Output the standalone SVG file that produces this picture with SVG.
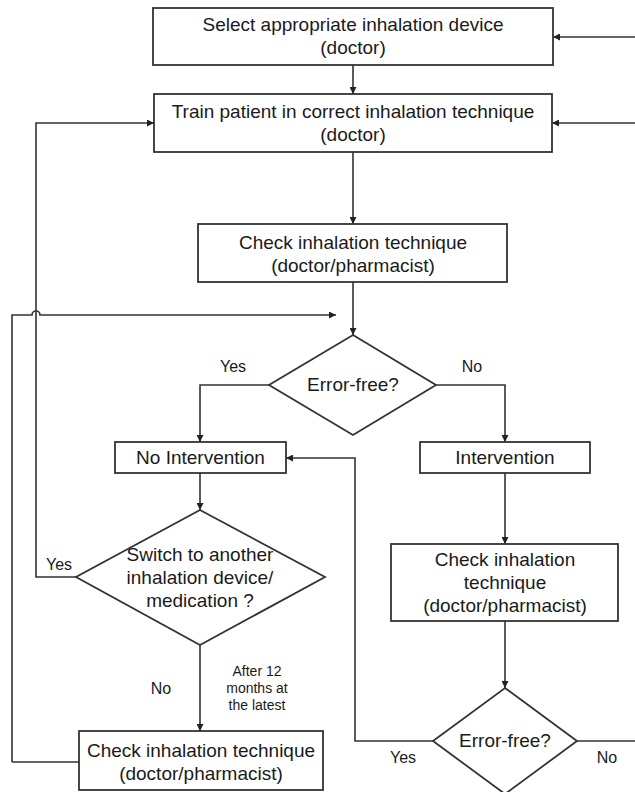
<svg xmlns="http://www.w3.org/2000/svg" width="635" height="792" viewBox="0 0 635 792">
<style>
.box{fill:#fff;stroke:#333;stroke-width:1.8}
.t{font-family:"Liberation Sans",Arial,sans-serif;font-size:19px;fill:#1a1a1a;text-anchor:middle}
.l{font-family:"Liberation Sans",Arial,sans-serif;font-size:16px;fill:#1a1a1a;text-anchor:middle}
.s{font-family:"Liberation Sans",Arial,sans-serif;font-size:14px;fill:#1a1a1a;text-anchor:middle}
.c{fill:none;stroke:#333;stroke-width:1.6}
</style>
<defs>
<marker id="ah" viewBox="0 0 10 10" refX="10" refY="5" markerWidth="8" markerHeight="7" markerUnits="userSpaceOnUse" orient="auto">
<path d="M0,0 L10,5 L0,10 z" fill="#222"/>
</marker>
</defs>
<rect width="635" height="792" fill="#fff"/>
<g id="connectors">
<line class="c" x1="353" y1="65" x2="353" y2="94" marker-end="url(#ah)"/>
<line class="c" x1="353" y1="152" x2="353" y2="224" marker-end="url(#ah)"/>
<line class="c" x1="353" y1="282" x2="353" y2="335" marker-end="url(#ah)"/>
<line class="c" x1="635" y1="37" x2="553" y2="37" marker-end="url(#ah)"/>
<line class="c" x1="635" y1="123" x2="552" y2="123" marker-end="url(#ah)"/>
<path class="c" d="M12,762 L79,762"/>
<path class="c" d="M12,762 L12,315 L32,315 A4,4 0 0 1 40,315 L336,315" marker-end="url(#ah)"/>
<path class="c" d="M76,577 L36,577 L36,123 L154,123" marker-end="url(#ah)"/>
<path class="c" d="M269,385 L200,385 L200,442" marker-end="url(#ah)"/>
<path class="c" d="M436,385 L505,385 L505,442" marker-end="url(#ah)"/>
<line class="c" x1="200" y1="473" x2="200" y2="510" marker-end="url(#ah)"/>
<line class="c" x1="200" y1="645" x2="200" y2="731" marker-end="url(#ah)"/>
<line class="c" x1="505" y1="473" x2="505" y2="544" marker-end="url(#ah)"/>
<line class="c" x1="505" y1="621" x2="505" y2="688" marker-end="url(#ah)"/>
<path class="c" d="M433,741 L355,741 L355,458 L286,458" marker-end="url(#ah)"/>
<line class="c" x1="577" y1="741" x2="635" y2="741"/>
<text class="l" x="233" y="372">Yes</text>
<text class="l" x="472" y="372">No</text>
<text class="l" x="59" y="570">Yes</text>
<text class="l" x="161" y="694">No</text>
<text class="s" x="257" y="676">After 12</text>
<text class="s" x="257" y="693">months at</text>
<text class="s" x="257" y="710">the latest</text>
<text class="l" x="403" y="763">Yes</text>
<text class="l" x="607" y="763">No</text>
</g>
<g id="select">
<rect class="box" x="153" y="8" width="400" height="57"/>
<text class="t" x="353" y="31">Select appropriate inhalation device</text>
<text class="t" x="353" y="54">(doctor)</text>
</g>
<g id="train">
<rect class="box" x="154" y="94" width="398" height="58"/>
<text class="t" x="353" y="118">Train patient in correct inhalation technique</text>
<text class="t" x="353" y="141">(doctor)</text>
</g>
<g id="check1">
<rect class="box" x="198" y="224" width="309" height="58"/>
<text class="t" x="353" y="249">Check inhalation technique</text>
<text class="t" x="353" y="272">(doctor/pharmacist)</text>
</g>
<g id="errorfree1">
<polygon class="box" points="353,335 436,385 353,435 269,385"/>
<text class="t" x="353" y="391">Error-free?</text>
</g>
<g id="nointervention">
<rect class="box" x="115" y="442" width="171" height="31"/>
<text class="t" x="200.5" y="464">No Intervention</text>
</g>
<g id="intervention">
<rect class="box" x="420" y="442" width="170" height="31"/>
<text class="t" x="505" y="464">Intervention</text>
</g>
<g id="switch">
<polygon class="box" points="200,510 325,577 200,645 76,577"/>
<text class="t" x="200" y="561">Switch to another</text>
<text class="t" x="200" y="584">inhalation device/</text>
<text class="t" x="200" y="607">medication ?</text>
</g>
<g id="check2">
<rect class="box" x="391" y="544" width="227" height="77"/>
<text class="t" x="505" y="566">Check inhalation</text>
<text class="t" x="505" y="589">technique</text>
<text class="t" x="505" y="612">(doctor/pharmacist)</text>
</g>
<g id="errorfree2">
<polygon class="box" points="505,688 577,741 505,794 433,741"/>
<text class="t" x="505" y="747">Error-free?</text>
</g>
<g id="check3">
<rect class="box" x="79" y="731" width="244" height="59"/>
<text class="t" x="201" y="757">Check inhalation technique</text>
<text class="t" x="201" y="780">(doctor/pharmacist)</text>
</g>
</svg>
